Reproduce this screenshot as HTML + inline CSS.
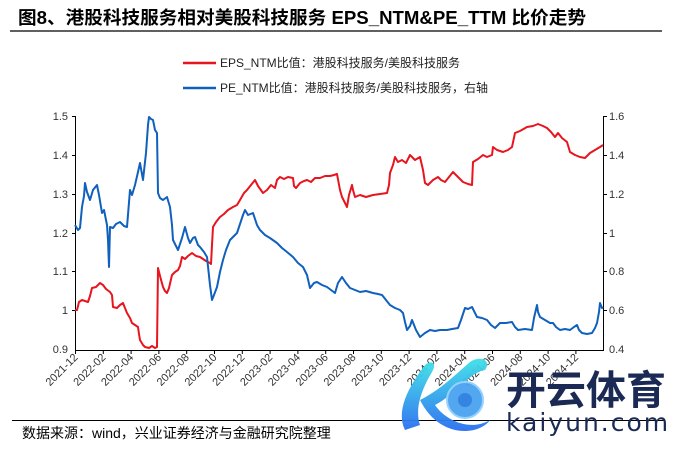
<!DOCTYPE html>
<html><head><meta charset="utf-8"><style>
body{margin:0;background:#fff;}
svg{display:block;font-family:"Liberation Sans","Noto Sans CJK SC",sans-serif;}
</style></head><body>
<svg width="676" height="457" viewBox="0 0 676 457" xmlns="http://www.w3.org/2000/svg">
<defs><linearGradient id="g" x1="0" y1="0" x2="0" y2="1"><stop offset="0" stop-color="#3ee0e8"/><stop offset="1" stop-color="#2a6ff0"/></linearGradient></defs>
<text x="18" y="24" font-size="18" font-weight="bold" fill="#000" textLength="568" lengthAdjust="spacingAndGlyphs">图8、港股科技服务相对美股科技服务 EPS_NTM&amp;PE_TTM 比价走势</text>
<line x1="10" y1="31" x2="662" y2="31" stroke="#000" stroke-width="1.2"/>
<line x1="183" y1="63" x2="216" y2="63" stroke="#e8141e" stroke-width="2.5"/>
<text x="220" y="67" font-size="12" fill="#222">EPS_NTM比值：港股科技服务/美股科技服务</text>
<line x1="183" y1="88" x2="216" y2="88" stroke="#1060be" stroke-width="2.5"/>
<text x="220" y="92" font-size="12" fill="#222">PE_NTM比值：港股科技服务/美股科技服务，右轴</text>
<g stroke="#000" stroke-width="1">
<line x1="75.5" y1="116" x2="75.5" y2="350"/>
<line x1="603.5" y1="116" x2="603.5" y2="350"/>
<line x1="75" y1="350.5" x2="604" y2="350.5"/>
<line x1="72" y1="116.5" x2="76" y2="116.5"/><line x1="72" y1="155.5" x2="76" y2="155.5"/><line x1="72" y1="194.5" x2="76" y2="194.5"/><line x1="72" y1="233.5" x2="76" y2="233.5"/><line x1="72" y1="271.5" x2="76" y2="271.5"/><line x1="72" y1="310.5" x2="76" y2="310.5"/>
<line x1="603" y1="116.5" x2="607" y2="116.5"/><line x1="603" y1="155.5" x2="607" y2="155.5"/><line x1="603" y1="194.5" x2="607" y2="194.5"/><line x1="603" y1="233.5" x2="607" y2="233.5"/><line x1="603" y1="271.5" x2="607" y2="271.5"/><line x1="603" y1="310.5" x2="607" y2="310.5"/>
<line x1="75.5" y1="350" x2="75.5" y2="354"/><line x1="103.3" y1="350" x2="103.3" y2="354"/><line x1="131.1" y1="350" x2="131.1" y2="354"/><line x1="158.9" y1="350" x2="158.9" y2="354"/><line x1="186.7" y1="350" x2="186.7" y2="354"/><line x1="214.5" y1="350" x2="214.5" y2="354"/><line x1="242.3" y1="350" x2="242.3" y2="354"/><line x1="270.1" y1="350" x2="270.1" y2="354"/><line x1="297.9" y1="350" x2="297.9" y2="354"/><line x1="325.7" y1="350" x2="325.7" y2="354"/><line x1="353.5" y1="350" x2="353.5" y2="354"/><line x1="381.3" y1="350" x2="381.3" y2="354"/><line x1="409.1" y1="350" x2="409.1" y2="354"/><line x1="436.9" y1="350" x2="436.9" y2="354"/><line x1="464.7" y1="350" x2="464.7" y2="354"/><line x1="492.5" y1="350" x2="492.5" y2="354"/><line x1="520.3" y1="350" x2="520.3" y2="354"/><line x1="548.1" y1="350" x2="548.1" y2="354"/><line x1="575.9" y1="350" x2="575.9" y2="354"/>
</g>
<g font-size="11" fill="#333" text-anchor="end">
<text x="68" y="120">1.5</text><text x="68" y="159">1.4</text><text x="68" y="198">1.3</text><text x="68" y="237">1.2</text><text x="68" y="275">1.1</text><text x="68" y="314">1</text><text x="68" y="353">0.9</text>
</g>
<g font-size="11" fill="#333">
<text x="609" y="120">1.6</text><text x="609" y="159">1.4</text><text x="609" y="198">1.2</text><text x="609" y="237">1</text><text x="609" y="275">0.8</text><text x="609" y="314">0.6</text><text x="609" y="353">0.4</text>
</g>
<g font-size="11" fill="#333" text-anchor="end">
<text transform="translate(78.5,358) rotate(-45)">2021-12</text>
<text transform="translate(106.3,358) rotate(-45)">2022-02</text>
<text transform="translate(134.1,358) rotate(-45)">2022-04</text>
<text transform="translate(161.9,358) rotate(-45)">2022-06</text>
<text transform="translate(189.7,358) rotate(-45)">2022-08</text>
<text transform="translate(217.5,358) rotate(-45)">2022-10</text>
<text transform="translate(245.3,358) rotate(-45)">2022-12</text>
<text transform="translate(273.1,358) rotate(-45)">2023-02</text>
<text transform="translate(300.9,358) rotate(-45)">2023-04</text>
<text transform="translate(328.7,358) rotate(-45)">2023-06</text>
<text transform="translate(356.5,358) rotate(-45)">2023-08</text>
<text transform="translate(384.3,358) rotate(-45)">2023-10</text>
<text transform="translate(412.1,358) rotate(-45)">2023-12</text>
<text transform="translate(439.9,358) rotate(-45)">2024-02</text>
<text transform="translate(467.7,358) rotate(-45)">2024-04</text>
<text transform="translate(495.5,358) rotate(-45)">2024-06</text>
<text transform="translate(523.3,358) rotate(-45)">2024-08</text>
<text transform="translate(551.1,358) rotate(-45)">2024-10</text>
<text transform="translate(578.9,358) rotate(-45)">2024-12</text>
</g>
<polyline fill="none" stroke="#e8141e" stroke-width="2" stroke-linejoin="round" points="75,310 77,310 79,302 82,300 85,301 88,302 90,296 92,288 96,287 100,283 103,285 106,289 110,292 112,295 113,307 117,308 120,305 123,303 125,308 127,313 130,318 132,323 135,325 138,327 139,334 140,340 143,345 145,347 149,348 152,346 155,348 157,347 158,268 160,276 163,287 165,291 167,293 169,288 172,275 175,272 178,270 180,266 182,257 185,259 188,256 192,253 196,256 200,257 203,259 206,261 210,263 211,264 212,245 213,227 216,222 220,217 224,214 228,210 233,207 237,205 240,200 244,193 247,190 251,185 255,180 258,186 263,193 267,190 271,185 275,188 277,180 280,177 284,179 288,177 293,178 294,186 296,188 300,183 304,181 307,180 311,182 315,178 320,178 325,176 330,176 334,175 337,174 340,190 342,197 345,203 347,207 349,195 352,185 353,190 355,197 360,195 366,197 373,195 380,194 387,193 389,185 390,173 393,165 395,157 398,162 402,160 406,163 410,155 415,160 420,157 423,170 425,183 428,185 433,180 438,177 441,180 445,182 449,177 453,172 457,176 463,182 468,184 472,185 473,162 478,159 483,155 487,157 492,155 493,147 497,150 503,152 508,150 512,147 515,133 520,131 527,127 533,126 538,124 543,126 547,128 551,132 555,137 558,133 562,138 567,142 570,152 575,155 580,157 585,158 588,155 590,153 595,150 600,147 603,145"/>
<polyline fill="none" stroke="#1060be" stroke-width="2" stroke-linejoin="round" points="75,225 78,230 80,228 82,207 84,196 85,183 87,192 90,200 93,190 97,185 99,195 102,213 104,210 107,225 108,240 109,267 110,227 113,228 116,224 120,222 124,226 127,227 130,190 132,195 135,185 138,172 140,163 143,180 146,153 148,125 149,117 151,119 153,120 155,130 157,133 158,193 160,198 163,200 167,197 170,207 172,225 173,240 176,246 178,250 182,238 185,227 188,238 190,243 193,238 195,237 198,245 200,247 204,252 207,257 210,285 212,300 214,295 217,287 220,272 223,260 226,250 230,240 234,236 237,233 240,224 243,215 245,210 248,215 253,213 257,225 260,230 265,235 270,238 277,243 282,248 287,252 293,257 298,263 303,267 307,275 310,288 314,283 317,282 322,285 327,287 331,290 335,293 338,283 342,277 346,283 350,288 355,290 360,292 366,291 373,293 378,294 382,295 386,300 390,305 395,308 400,310 403,313 405,322 407,330 410,326 412,320 416,330 420,337 425,333 430,330 435,331 440,330 447,330 452,329 458,328 461,320 465,308 468,309 472,307 475,313 477,317 482,318 487,320 491,325 495,328 500,323 506,323 512,322 515,327 518,330 525,329 532,330 534,318 537,305 538,312 540,317 545,320 550,323 553,323 556,327 560,330 565,329 570,330 574,327 577,325 579,330 582,333 587,334 592,333 595,328 597,323 599,312 600,303 602,308 603,307"/>
<line x1="12" y1="420.5" x2="664" y2="420.5" stroke="#000" stroke-width="1"/>
<text x="22" y="438" font-size="14" fill="#000">数据来源：wind，兴业证券经济与金融研究院整理</text>
<g opacity="0.95">
<path d="M405,430 C395,410 410,385 425,365 C430,360 438,362 432,372 C420,392 415,410 420,425 Z" fill="url(#g)"/>
<path d="M420,400 C440,390 455,375 470,362 C480,355 492,360 485,370 C470,372 455,395 435,405 C445,420 470,432 490,420 C480,435 440,440 420,400 Z" fill="url(#g)"/>
<circle cx="465" cy="400" r="18" fill="#4aa3f0" stroke="#8fd0ff" stroke-width="2"/>
<circle cx="465" cy="400" r="7" fill="#2a7ee0"/>
</g>
<text x="506" y="404" font-size="40" font-weight="bold" fill="#1b2a55" font-family="'Noto Sans CJK SC',sans-serif">开云体育</text>
<text x="506" y="431" font-size="25" fill="#1b2a55" letter-spacing="2" font-family="'DejaVu Sans',sans-serif">kaiyun.com</text>
</svg>
</body></html>
